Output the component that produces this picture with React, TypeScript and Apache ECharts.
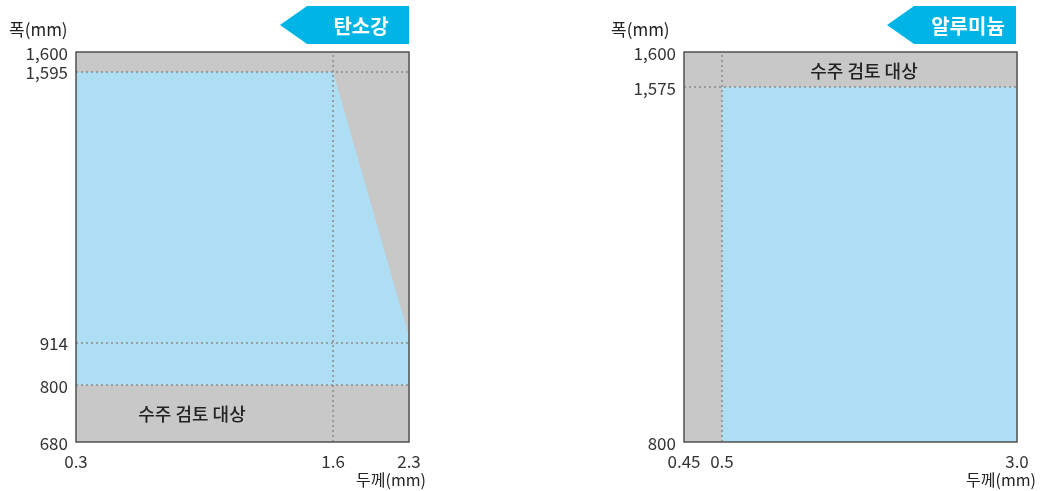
import React, { useEffect, useRef } from "react";
import * as echarts from "echarts";

// ---- data ----
const steelXTicks = [0.3, 1.6, 2.3];
const steelXLabels = ["0.3", "1.6", "2.3"];
const steelYTicks = [680, 800, 914, 1595, 1600];
const steelYLabels = ["680", "800", "914", "1,595", "1,600"];
const steelProducible = [
  [0.3, 800],
  [0.3, 1595],
  [1.6, 1595],
  [2.3, 930],
  [2.3, 800],
];
const steelHLines = [1595, 914, 800];
const steelVLines = [1.6];

const alumXTicks = [0.45, 0.5, 3.0];
const alumXLabels = ["0.45", "0.5", "3.0"];
const alumYTicks = [800, 1575, 1600];
const alumYLabels = ["800", "1,575", "1,600"];
const alumProducible = [
  [0.5, 800],
  [0.5, 1575],
  [3.0, 1575],
  [3.0, 800],
];
const alumHLines = [1575];
const alumVLines = [0.5];

// ---- schematic (non-linear) layout of the axes: relative tick positions ----
const steelXPos = [0, 0.772, 1];
const steelYPos = [0, 0.146, 0.254, 0.949, 1];
const alumXPos = [0, 0.114, 1];
const alumYPos = [0, 0.91, 1];

function piecewise(ticks: number[], pos: number[]) {
  return (v: number) => {
    for (let i = 0; i < ticks.length - 1; i++) {
      if (v <= ticks[i + 1] || i === ticks.length - 2) {
        const t = (v - ticks[i]) / (ticks[i + 1] - ticks[i]);
        return pos[i] + t * (pos[i + 1] - pos[i]);
      }
    }
    return pos[pos.length - 1];
  };
}

const FONT = "'Noto Sans CJK KR', 'Noto Sans', sans-serif";
const BLUE = "#addef3";
const GRAY = "#c8c8c8";
const CYAN = "#00b5e6";

const GRID_W = 333;
const GRID_H = 390;
const GRID_TOP = 52;
const LEFT_GRID = 76;
const RIGHT_GRID = 684;

function labelFormatter(pos: number[], labels: string[]) {
  return (v: number) => {
    for (let i = 0; i < pos.length; i++) {
      if (Math.abs(pos[i] - v) < 1e-6) return labels[i];
    }
    return "";
  };
}

function makeRender(
  poly: number[][],
  hLines: number[],
  vLines: number[],
  mx: (v: number) => number,
  my: (v: number) => number,
  xr: [number, number],
  yr: [number, number]
) {
  return (_params: any, api: any) => {
    const c = (x: number, y: number) => api.coord([mx(x), my(y)]);
    const children: any[] = [];
    children.push({
      type: "polygon",
      shape: { points: poly.map((p) => c(p[0], p[1])) },
      style: { fill: BLUE },
    });
    const dash = { stroke: "#8a8a8a", lineWidth: 1.5, lineDash: [2, 3] };
    hLines.forEach((h) => {
      const a = c(xr[0], h);
      const b = c(xr[1], h);
      children.push({ type: "line", shape: { x1: a[0], y1: a[1], x2: b[0], y2: b[1] }, style: dash });
    });
    vLines.forEach((v) => {
      const a = c(v, yr[0]);
      const b = c(v, yr[1]);
      children.push({ type: "line", shape: { x1: a[0], y1: a[1], x2: b[0], y2: b[1] }, style: dash });
    });
    const tl = c(xr[0], yr[1]);
    const br = c(xr[1], yr[0]);
    children.push({
      type: "rect",
      shape: { x: tl[0], y: tl[1], width: br[0] - tl[0], height: br[1] - tl[1] },
      style: { fill: "none", stroke: "#505050", lineWidth: 1.5 },
    });
    return { type: "group", children };
  };
}

function tag(x: number, text: string) {
  const r = x + 129;
  return [
    {
      type: "polygon",
      shape: {
        points: [
          [x, 25],
          [x + 27, 6],
          [r, 6],
          [r, 44],
          [x + 27, 44],
        ],
      },
      style: { fill: CYAN },
    },
    {
      type: "text",
      x: x + 81,
      y: 25,
      style: {
        text,
        fill: "#ffffff",
        font: `bold 20px ${FONT}`,
        align: "center",
        verticalAlign: "middle",
      },
    },
  ];
}

function txt(x: number, y: number, text: string, size = 18, align = "center", weight = 500) {
  return {
    type: "text",
    x,
    y,
    style: {
      text,
      fill: "#222",
      font: `${weight} ${size}px ${FONT}`,
      lineHeight: size,
      align,
      verticalAlign: "middle",
    },
  };
}

export default function App() {
  const ref = useRef<HTMLDivElement>(null);
  useEffect(() => {
    if (!ref.current) return;
    const chart = echarts.init(ref.current, undefined, { renderer: "svg" });

    const smx = piecewise(steelXTicks, steelXPos);
    const smy = piecewise(steelYTicks, steelYPos);
    const amx = piecewise(alumXTicks, alumXPos);
    const amy = piecewise(alumYTicks, alumYPos);

    const axisLabelStyle = { color: "#333", fontSize: 17, lineHeight: 17, fontFamily: FONT };

    const xAxisBase = (idx: number, pos: number[], labels: string[]) => ({
      type: "value",
      gridIndex: idx,
      min: 0,
      max: 1,
      axisLine: { show: false },
      axisTick: { show: false },
      splitLine: { show: false },
      axisLabel: {
        ...axisLabelStyle,
        margin: 10,
        customValues: pos,
        formatter: labelFormatter(pos, labels),
      },
    });
    const yAxisBase = (idx: number, pos: number[], labels: string[]) => ({
      type: "value",
      gridIndex: idx,
      min: 0,
      max: 1,
      axisLine: { show: false },
      axisTick: { show: false },
      splitLine: { show: false },
      axisLabel: {
        ...axisLabelStyle,
        margin: 8,
        customValues: pos,
        formatter: labelFormatter(pos, labels),
      },
    });

    chart.setOption({
      animation: false,
      grid: [
        { left: LEFT_GRID, top: GRID_TOP, width: GRID_W, height: GRID_H, show: true, backgroundColor: GRAY, borderWidth: 0 },
        { left: RIGHT_GRID, top: GRID_TOP, width: GRID_W, height: GRID_H, show: true, backgroundColor: GRAY, borderWidth: 0 },
      ],
      xAxis: [xAxisBase(0, steelXPos, steelXLabels), xAxisBase(1, alumXPos, alumXLabels)],
      yAxis: [yAxisBase(0, steelYPos, steelYLabels), yAxisBase(1, alumYPos, alumYLabels)],
      series: [
        {
          type: "custom",
          xAxisIndex: 0,
          yAxisIndex: 0,
          data: [[0, 0]],
          renderItem: makeRender(
            steelProducible,
            steelHLines,
            steelVLines,
            smx,
            smy,
            [steelXTicks[0], steelXTicks[steelXTicks.length - 1]],
            [steelYTicks[0], steelYTicks[steelYTicks.length - 1]]
          ),
        },
        {
          type: "custom",
          xAxisIndex: 1,
          yAxisIndex: 1,
          data: [[0, 0]],
          renderItem: makeRender(
            alumProducible,
            alumHLines,
            alumVLines,
            amx,
            amy,
            [alumXTicks[0], alumXTicks[alumXTicks.length - 1]],
            [alumYTicks[0], alumYTicks[alumYTicks.length - 1]]
          ),
        },
      ],
      graphic: [
        ...tag(280, "탄소강"),
        ...tag(887, "알루미늄"),
        txt(9, 28, "폭(mm)", 17, "left", 400),
        txt(611, 28, "폭(mm)", 17, "left", 400),
        txt(426, 479, "두께(mm)", 16, "right", 400),
        txt(1036, 479, "두께(mm)", 16, "right", 400),
        txt(191, 231, "생산가능 범위"),
        txt(192, 413, "수주 검토 대상"),
        txt(864, 70, "수주 검토 대상"),
        txt(870, 255, "생산가능 범위"),
      ],
    });
    return () => chart.dispose();
  }, []);
  return (
    <div
      ref={ref}
      style={{ position: "fixed", left: 0, top: 0, width: 1040, height: 491 }}
    />
  );
}
